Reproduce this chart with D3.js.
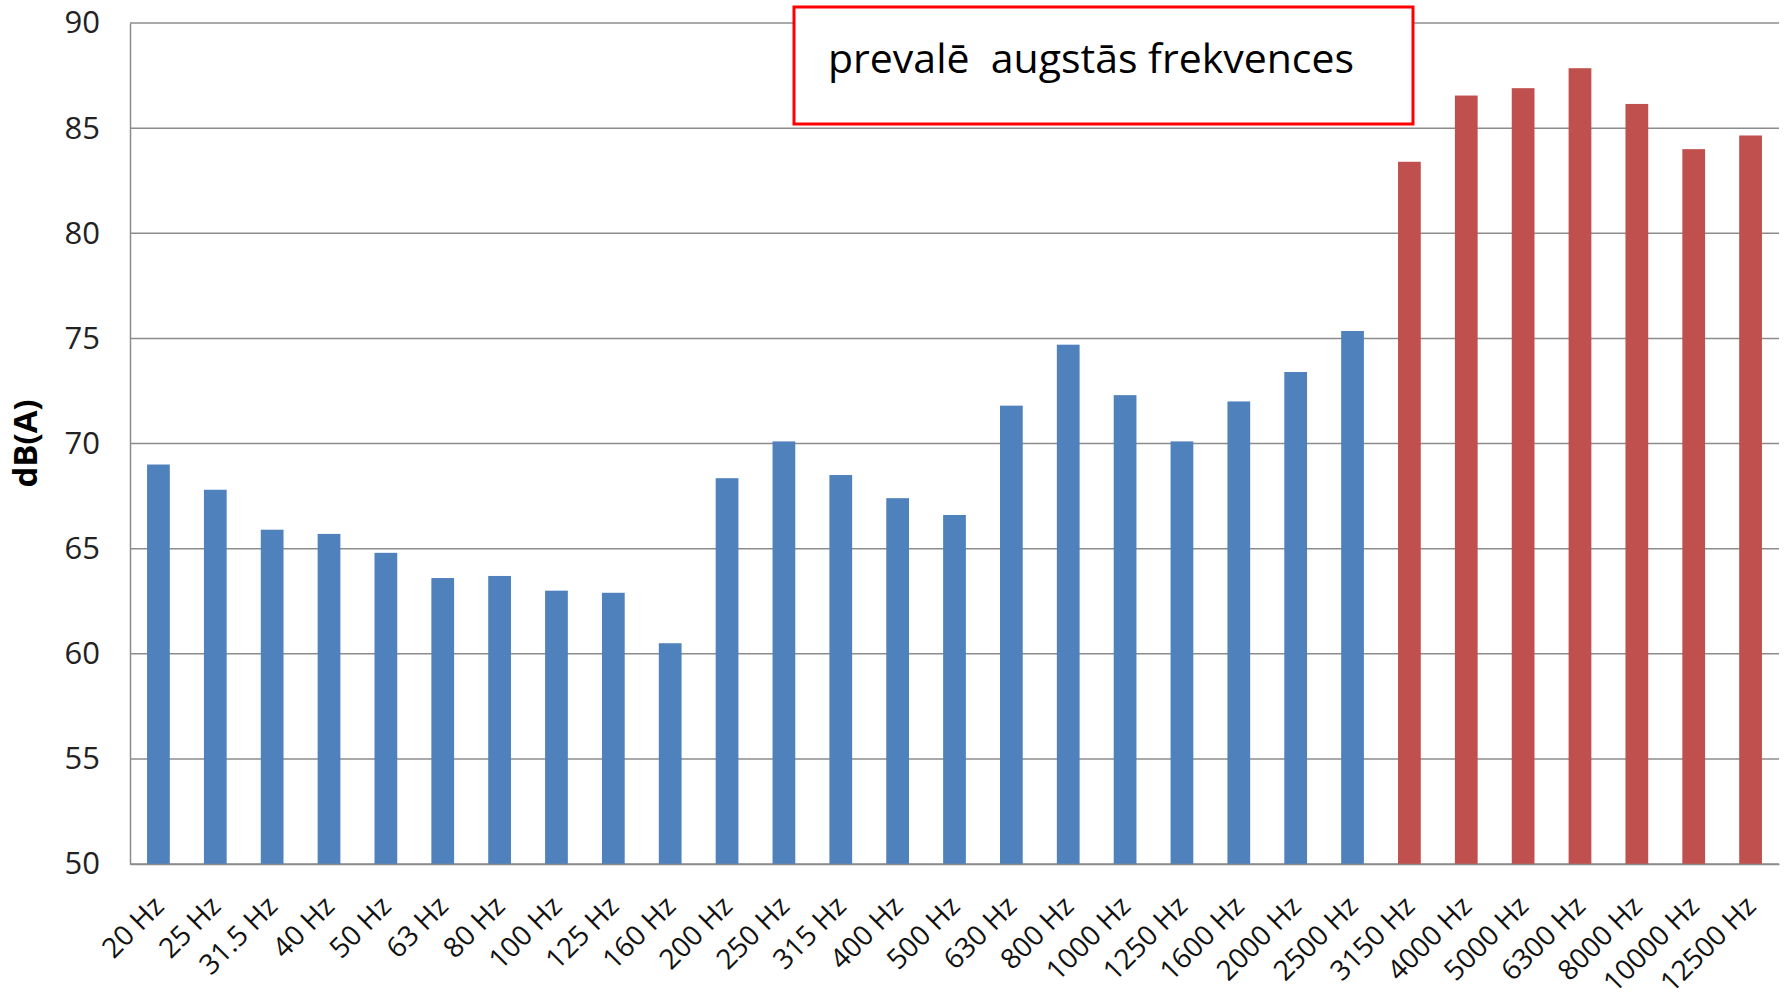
<!DOCTYPE html>
<html>
<head>
<meta charset="utf-8">
<script src="https://d3js.org/d3.v7.min.js"></script>
<style>
body { margin: 0; background: #fff; }
</style>
</head>
<body>
<div id="chart"></div>
<script>
var frequencies = ["20 Hz", "25 Hz", "31.5 Hz", "40 Hz", "50 Hz", "63 Hz", "80 Hz", "100 Hz",
	"125 Hz", "160 Hz", "200 Hz", "250 Hz", "315 Hz", "400 Hz", "500 Hz", "630 Hz", "800 Hz",
	"1000 Hz", "1250 Hz", "1600 Hz", "2000 Hz", "2500 Hz", "3150 Hz", "4000 Hz", "5000 Hz",
	"6300 Hz", "8000 Hz", "10000 Hz", "12500 Hz"];
var levels = [69.0, 67.8, 65.9, 65.7, 64.8, 63.6, 63.7, 63.0,
	62.9, 60.5, 68.35, 70.1, 68.5, 67.4, 66.6, 71.8, 74.7,
	72.3, 70.1, 72.0, 73.4, 75.35, 83.4, 86.55, 86.9,
	87.85, 86.15, 84.0, 84.65];
// frequencies drawn in red
var highFreqs = ["3150 Hz", "4000 Hz", "5000 Hz", "6300 Hz", "8000 Hz", "10000 Hz", "12500 Hz"];
var yTicks = [50, 55, 60, 65, 70, 75, 80, 85, 90];
var yLabel = "dB(A)";
var noteText = "prevalē  augstās frekvences";

var width = 1785,
	height = 1006,
	plotLeft = 130,
	plotRight = 1779,
	plotTop = 23,
	plotBottom = 864;

var svg = d3.select("#chart").append("svg")
	.attr("width", width)
	.attr("height", height)
	.style("font-family", "'Open Sans', 'Noto Sans', sans-serif");

var x = d3.scaleBand()
	.domain(frequencies)
	.range([plotLeft, plotRight])
	.paddingInner(0.6)
	.paddingOuter(0.3);

var y = d3.scaleLinear()
	.domain([50, 90])
	.range([plotBottom, plotTop]);

// gridlines
svg.append("g")
	.selectAll("line")
	.data(yTicks)
	.join("line")
		.attr("x1", plotLeft)
		.attr("x2", plotRight)
		.attr("y1", d => y(d))
		.attr("y2", d => y(d))
		.attr("stroke", "#8c8c8c")
		.attr("stroke-width", 1.5);

// y axis
var yAxis = svg.append("g")
	.attr("transform", "translate(" + plotLeft + ",0)")
	.call(d3.axisLeft(y).tickValues(yTicks).tickSize(0).tickPadding(30))
	.attr("font-family", null)
	.attr("font-size", null);
yAxis.select(".domain").attr("stroke", "#8c8c8c").attr("stroke-width", 1.5);
yAxis.selectAll("text")
	.style("font-size", "31px")
	.attr("fill", "#222");

svg.append("text")
	.attr("transform", "translate(37," + ((plotTop + plotBottom) / 2) + ") rotate(-90)")
	.attr("text-anchor", "middle")
	.style("font-size", "33px")
	.style("font-weight", "bold")
	.text(yLabel);

// bars
svg.append("g")
	.selectAll("rect")
	.data(frequencies)
	.join("rect")
		.attr("x", d => x(d))
		.attr("y", (d, i) => y(levels[i]))
		.attr("width", x.bandwidth())
		.attr("height", (d, i) => y(50) - y(levels[i]))
		.attr("fill", d => highFreqs.includes(d) ? "#c0504d" : "#4f81bd");

// x axis
var xAxis = svg.append("g")
	.attr("transform", "translate(0," + plotBottom + ")")
	.call(d3.axisBottom(x).tickSize(0).tickPadding(0))
	.attr("font-family", null)
	.attr("font-size", null);
xAxis.select(".domain").attr("stroke", "#8c8c8c").attr("stroke-width", 1.5);
xAxis.selectAll("text")
	.style("font-size", "28px")
	.attr("fill", "#111")
	.attr("text-anchor", "end")
	.attr("dy", 0)
	.attr("transform", "translate(7,44) rotate(-45)");

// annotation box
var note = svg.append("g");
note.append("rect")
	.attr("x", 794)
	.attr("y", 7)
	.attr("width", 619)
	.attr("height", 117)
	.attr("fill", "#fff")
	.attr("stroke", "#ff0000")
	.attr("stroke-width", 3);
note.append("text")
	.attr("x", 828)
	.attr("y", 73)
	.style("font-size", "41px")
	.style("white-space", "pre")
	.attr("fill", "#000")
	.text(noteText);
</script>
</body>
</html>
